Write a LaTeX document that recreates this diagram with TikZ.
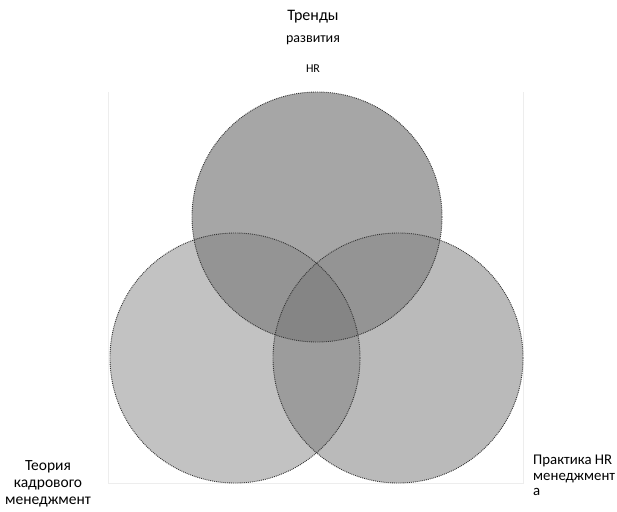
\documentclass[tikz,border=0pt]{standalone}
\usepackage{fontspec}
\setmainfont{Carlito}
\definecolor{topfill}{gray}{0.65}
\definecolor{leftfill}{gray}{0.76}
\definecolor{rightfill}{gray}{0.73}
\definecolor{pairfill}{gray}{0.58}
\definecolor{lrfill}{gray}{0.61}
\definecolor{midfill}{gray}{0.52}
\tikzset{
    rim/.style = {draw=black!80, densely dotted, line width=0.9pt},
    frameline/.style = {draw=black!7, line width=0.8pt},
    lbl/.style = {inner sep=0pt, anchor=base}
}
\begin{document}
\begin{tikzpicture}[x=1pt, y=-1pt]
            \useasboundingbox (0,0) rectangle (617,511);

            \coordinate (ct) at (317,217);
            \coordinate (cl) at (235,358);
            \coordinate (cr) at (398,358);
            \def\rad{125}

            \draw[frameline] (108,92) -- (108,483) -- (523,483) -- (523,92);

            \fill[leftfill] (cl) circle (\rad);
            \fill[rightfill] (cr) circle (\rad);
            \fill[topfill] (ct) circle (\rad);

            % overlaps
            \begin{scope}
                \clip (ct) circle (\rad);
                \fill[pairfill] (cl) circle (\rad);
                \fill[pairfill] (cr) circle (\rad);
            \end{scope}
            \begin{scope}
                \clip (cl) circle (\rad);
                \fill[lrfill] (cr) circle (\rad);
                \clip (cr) circle (\rad);
                \fill[midfill] (ct) circle (\rad);
            \end{scope}

            \draw[rim] (cl) circle (\rad);
            \draw[rim] (cr) circle (\rad);
            \draw[rim] (ct) circle (\rad);

            \node[lbl, font=\fontsize{16}{17}\selectfont] (trend) at (313,21) {Тренды};
            \node[lbl, font=\fontsize{14}{15}\selectfont] (razv) at (313,42) {развития};
            \node[lbl, font=\fontsize{12}{13}\selectfont] (hr) at (313,72) {HR};

            \node[lbl, font=\fontsize{15.5}{17}\selectfont] (teor1) at (48,470) {Теория};
            \node[lbl, font=\fontsize{15.5}{17}\selectfont] (teor2) at (48,487) {кадрового};
            \node[lbl, font=\fontsize{15.5}{17}\selectfont] (teor3) at (48,504) {менеджмент};

            \node[lbl, anchor=base west, font=\fontsize{14.8}{17}\selectfont] (prak1) at (533,464) {Практика HR};
            \node[lbl, anchor=base west, font=\fontsize{14.8}{17}\selectfont] (prak2) at (533,480) {менеджмент};
            \node[lbl, anchor=base west, font=\fontsize{14.8}{17}\selectfont] (prak3) at (533,495) {а};
        \end{tikzpicture}
\end{document}
